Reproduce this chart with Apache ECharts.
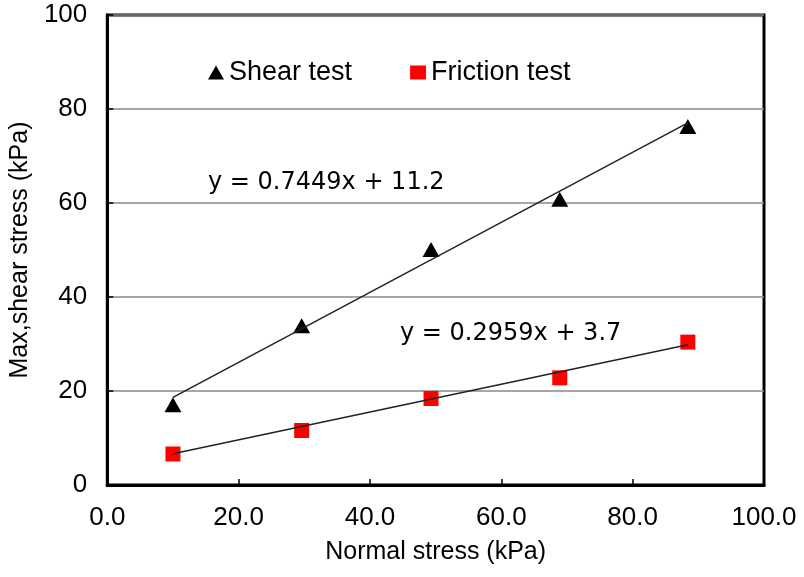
<!DOCTYPE html>
<html>
<head>
    <meta charset="utf-8">
    <script src="https://cdn.jsdelivr.net/npm/echarts@6/dist/echarts.min.js"></script>
    <style>
        html, body { margin: 0; padding: 0; background: #fff; }
    </style>
</head>
<body>
<div id="myChart" style="width: 804px; height: 577px;"></div>

<script type="text/javascript">
    // 数据
    var normalStress = [10, 29.6, 49.3, 68.9, 88.4];
    var shearTest = [17.1, 33.9, 50.1, 60.8, 76.3];
    var frictionTest = [6.6, 11.6, 18.4, 22.8, 30.4];

    // 回归线 y = a x + b
    var shearFit = {a: 0.7449, b: 11.2, label: 'y = 0.7449x + 11.2'};
    var frictionFit = {a: 0.2959, b: 3.7, label: 'y = 0.2959x + 3.7'};
    var fitRange = [10, 88.4];

    var xTicks = [0, 20, 40, 60, 80, 100];

    function pairs(xs, ys) {
        return xs.map(function (x, i) { return [x, ys[i]]; });
    }
    function fitLine(fit) {
        return fitRange.map(function (x) { return [x, fit.a * x + fit.b]; });
    }

    var chart = echarts.init(document.getElementById('myChart'));
    var font = '"Liberation Sans", Arial, sans-serif';

    var option = {
        animation: false,
        backgroundColor: '#fff',
        grid: {
            left: 106,
            right: 40,
            top: 15,
            bottom: 92,
            show: true,
            borderColor: '#000',
            borderWidth: 3,
        },
        legend: {
            left: 203,
            top: 54,
            itemWidth: 16,
            itemHeight: 14,
            itemGap: 58,
            textStyle: {fontFamily: font, fontSize: 27, color: '#000'},
            data: [
                {name: 'Shear test', icon: 'triangle'},
                {name: 'Friction test', icon: 'rect'},
            ],
        },
        xAxis: {
            type: 'value',
            min: xTicks[0],
            max: xTicks[xTicks.length - 1],
            interval: 20,
            name: 'Normal stress (kPa)',
            nameLocation: 'middle',
            nameGap: 55,
            nameTextStyle: {fontFamily: font, fontSize: 25, color: '#000'},
            axisLine: {lineStyle: {color: '#000', width: 3}},
            axisTick: {inside: true, length: 6, lineStyle: {color: '#000', width: 1.5}},
            axisLabel: {
                fontFamily: font, fontSize: 26, color: '#000', margin: 20,
                formatter: function (v) { return v.toFixed(1); },
            },
            splitLine: {show: false},
        },
        yAxis: {
            type: 'value',
            min: 0,
            max: 100,
            interval: 20,
            name: 'Max,shear stress (kPa)',
            nameLocation: 'middle',
            nameGap: 68,
            nameTextStyle: {fontFamily: font, fontSize: 25, color: '#000'},
            axisLine: {lineStyle: {color: '#000', width: 3}},
            axisTick: {inside: true, length: 6, lineStyle: {color: '#000', width: 1.5}},
            axisLabel: {fontFamily: font, fontSize: 26, color: '#000', margin: 20},
            splitLine: {lineStyle: {color: '#888', width: 1.5}},
        },
        graphic: [
            {
                type: 'text', left: 208, top: 171,
                style: {text: shearFit.label, font: '24px "DejaVu Sans", sans-serif', fill: '#000'},
            },
            {
                type: 'text', left: 400, top: 322,
                style: {text: frictionFit.label, font: '24px "DejaVu Sans", sans-serif', fill: '#000'},
            },
        ],
        series: [
            {
                name: 'Shear test',
                type: 'scatter',
                symbol: 'triangle',
                symbolSize: [17, 15],
                itemStyle: {color: '#000', opacity: 1},
                z: 2,
                data: pairs(normalStress, shearTest),
            },
            {
                name: 'Friction test',
                type: 'scatter',
                symbol: 'rect',
                symbolSize: 15,
                itemStyle: {color: '#ff0000', opacity: 1},
                z: 2,
                data: pairs(normalStress, frictionTest),
            },
            {
                name: 'shear fit',
                type: 'line',
                showSymbol: false,
                silent: true,
                lineStyle: {color: '#222', width: 1.5},
                z: 3,
                data: fitLine(shearFit),
            },
            {
                name: 'friction fit',
                type: 'line',
                showSymbol: false,
                silent: true,
                lineStyle: {color: '#222', width: 1.5},
                z: 3,
                data: fitLine(frictionFit),
            },
        ],
    };

    chart.setOption(option, true);
</script>
</body>
</html>
